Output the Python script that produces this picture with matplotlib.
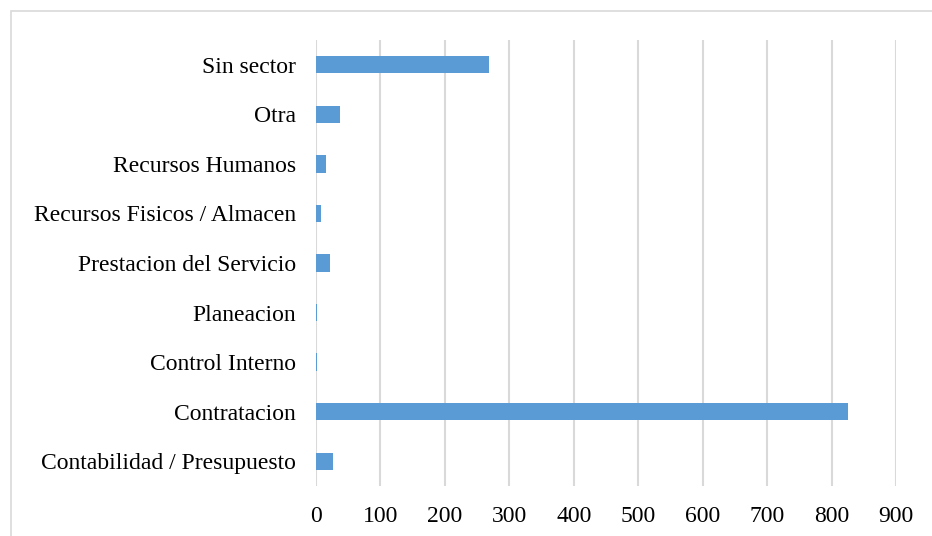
import matplotlib.pyplot as plt
from matplotlib.patches import Rectangle

categories = ['Contabilidad / Presupuesto', 'Contratacion', 'Control Interno',
              'Planeacion', 'Prestacion del Servicio', 'Recursos Fisicos / Almacen',
              'Recursos Humanos', 'Otra', 'Sin sector']
values = [27, 826, 2, 2, 21, 8, 16, 37, 268]
x_ticks = [0, 100, 200, 300, 400, 500, 600, 700, 800, 900]

plt.rcParams['font.family'] = ['Liberation Serif', 'DejaVu Serif']

fig = plt.figure(figsize=(9.32, 5.36), dpi=100)
ax = fig.add_axes([316 / 932, 1 - 486 / 536, (896 - 316) / 932, (486 - 40) / 536])

ax.barh(range(len(categories)), values, height=0.35, color='#5b9bd5', zorder=3)
ax.set_yticks(range(len(categories)))
ax.set_yticklabels(categories, fontsize=17)
ax.set_xticks(x_ticks)
ax.set_xticklabels([str(t) for t in x_ticks], fontsize=17)
ax.set_xlim(0, 900)
ax.set_ylim(-0.5, len(categories) - 0.5)

ax.grid(axis='x', color='#d9d9d9', linewidth=1.5, zorder=0)
ax.tick_params(length=0)
ax.tick_params(axis='y', pad=14.4)
ax.tick_params(axis='x', pad=14.5)
for s in ax.spines.values():
    s.set_visible(False)

# outer chart border (cut off at right and bottom)
fig.patches.append(Rectangle((10.5 / 932, -0.1), 1.2, 1.1 - 11.5 / 536,
                             transform=fig.transFigure, fill=False,
                             edgecolor='#d9d9d9', linewidth=1.2))

fig.savefig('out.png', dpi=100)
